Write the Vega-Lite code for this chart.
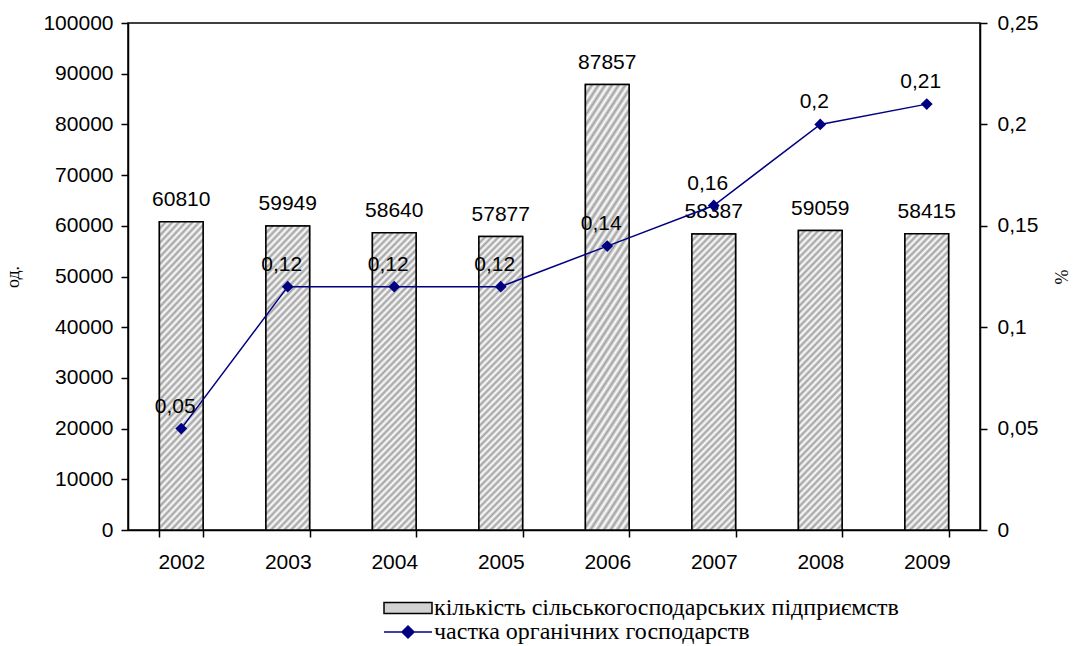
{
  "$schema": "https://vega.github.io/schema/vega-lite/v6.json",
  "width": 852,
  "height": 507,
  "autosize": {"type": "none"},
  "padding": {"left": 128, "top": 23, "right": 94, "bottom": 116},
  "config": {
    "locale": {"number": {"decimal": ",", "thousands": "", "grouping": [3], "currency": ["", ""]}},
    "view": {"stroke": "black", "strokeWidth": 1.5},
    "axis": {
      "grid": false,
      "domainColor": "black",
      "domainWidth": 1.5,
      "tickColor": "black",
      "tickWidth": 1.5,
      "tickSize": 7,
      "labelColor": "black",
      "labelFont": "Liberation Sans",
      "labelFontSize": 21,
      "titleColor": "black",
      "titleFont": "Liberation Serif",
      "titleFontSize": 18,
      "titleFontWeight": "normal"
    },
    "legend": {"labelFont": "Liberation Serif", "labelFontSize": 24, "labelColor": "black"}
  },
  "data": {
    "values": [
      {"year": "2002", "count": 60810, "share": 0.05},
      {"year": "2003", "count": 59949, "share": 0.12},
      {"year": "2004", "count": 58640, "share": 0.12},
      {"year": "2005", "count": 57877, "share": 0.12},
      {"year": "2006", "count": 87857, "share": 0.14},
      {"year": "2007", "count": 58387, "share": 0.16},
      {"year": "2008", "count": 59059, "share": 0.2},
      {"year": "2009", "count": 58415, "share": 0.21}
    ]
  },
  "encoding": {
    "x": {
      "field": "year",
      "type": "ordinal",
      "scale": {"paddingInner": 0.59, "paddingOuter": 0.295},
      "axis": {"title": null, "labelAngle": 0, "tickBand": "extent", "labelPadding": 14}
    }
  },
  "layer": [
    {
      "layer": [
        {
          "mark": {"type": "bar", "stroke": "black", "strokeWidth": 1.5},
          "encoding": {
            "y": {
              "field": "count",
              "type": "quantitative",
              "scale": {"domain": [0, 100000], "nice": false},
              "axis": {"title": "од.", "values": [0, 10000, 20000, 30000, 40000, 50000, 60000, 70000, 80000, 90000, 100000], "format": "d", "labelPadding": 8, "titlePadding": 20}
            },
            "fill": {
              "datum": "кількість сільськогосподарських підприємств",
              "scale": {"range": ["#d2d2d2"]},
              "legend": {
                "title": null,
                "orient": "none",
                "legendX": 255,
                "legendY": 560,
                "padding": 0,
                "symbolType": "M-1,-0.23H1V0.23H-1Z",
                "symbolSize": 2304,
                "symbolStrokeColor": "black",
                "symbolStrokeWidth": 1.5,
                "labelFont": "Liberation Serif",
                "labelFontSize": 24,
                "labelColor": "black",
                "labelLimit": 0,
                "labelOffset": 1
              }
            }
          }
        },
        {
          "mark": {
            "type": "bar",
            "stroke": "black",
            "strokeWidth": 1.5,
            "fill": {
              "gradient": "linear",
              "x1": 0, "y1": 0, "x2": 0.17, "y2": 1.13,
              "stops": [
                {"offset": 0, "color": "#a0a0a0"}, {"offset": 0.01, "color": "#ffffff"},
                {"offset": 0.02, "color": "#a0a0a0"}, {"offset": 0.03, "color": "#ffffff"},
                {"offset": 0.04, "color": "#a0a0a0"}, {"offset": 0.05, "color": "#ffffff"},
                {"offset": 0.06, "color": "#a0a0a0"}, {"offset": 0.07, "color": "#ffffff"},
                {"offset": 0.08, "color": "#a0a0a0"}, {"offset": 0.09, "color": "#ffffff"},
                {"offset": 0.10, "color": "#a0a0a0"}, {"offset": 0.11, "color": "#ffffff"},
                {"offset": 0.12, "color": "#a0a0a0"}, {"offset": 0.13, "color": "#ffffff"},
                {"offset": 0.14, "color": "#a0a0a0"}, {"offset": 0.15, "color": "#ffffff"},
                {"offset": 0.16, "color": "#a0a0a0"}, {"offset": 0.17, "color": "#ffffff"},
                {"offset": 0.18, "color": "#a0a0a0"}, {"offset": 0.19, "color": "#ffffff"},
                {"offset": 0.20, "color": "#a0a0a0"}, {"offset": 0.21, "color": "#ffffff"},
                {"offset": 0.22, "color": "#a0a0a0"}, {"offset": 0.23, "color": "#ffffff"},
                {"offset": 0.24, "color": "#a0a0a0"}, {"offset": 0.25, "color": "#ffffff"},
                {"offset": 0.26, "color": "#a0a0a0"}, {"offset": 0.27, "color": "#ffffff"},
                {"offset": 0.28, "color": "#a0a0a0"}, {"offset": 0.29, "color": "#ffffff"},
                {"offset": 0.30, "color": "#a0a0a0"}, {"offset": 0.31, "color": "#ffffff"},
                {"offset": 0.32, "color": "#a0a0a0"}, {"offset": 0.33, "color": "#ffffff"},
                {"offset": 0.34, "color": "#a0a0a0"}, {"offset": 0.35, "color": "#ffffff"},
                {"offset": 0.36, "color": "#a0a0a0"}, {"offset": 0.37, "color": "#ffffff"},
                {"offset": 0.38, "color": "#a0a0a0"}, {"offset": 0.39, "color": "#ffffff"},
                {"offset": 0.40, "color": "#a0a0a0"}, {"offset": 0.41, "color": "#ffffff"},
                {"offset": 0.42, "color": "#a0a0a0"}, {"offset": 0.43, "color": "#ffffff"},
                {"offset": 0.44, "color": "#a0a0a0"}, {"offset": 0.45, "color": "#ffffff"},
                {"offset": 0.46, "color": "#a0a0a0"}, {"offset": 0.47, "color": "#ffffff"},
                {"offset": 0.48, "color": "#a0a0a0"}, {"offset": 0.49, "color": "#ffffff"},
                {"offset": 0.50, "color": "#a0a0a0"}, {"offset": 0.51, "color": "#ffffff"},
                {"offset": 0.52, "color": "#a0a0a0"}, {"offset": 0.53, "color": "#ffffff"},
                {"offset": 0.54, "color": "#a0a0a0"}, {"offset": 0.55, "color": "#ffffff"},
                {"offset": 0.56, "color": "#a0a0a0"}, {"offset": 0.57, "color": "#ffffff"},
                {"offset": 0.58, "color": "#a0a0a0"}, {"offset": 0.59, "color": "#ffffff"},
                {"offset": 0.60, "color": "#a0a0a0"}, {"offset": 0.61, "color": "#ffffff"},
                {"offset": 0.62, "color": "#a0a0a0"}, {"offset": 0.63, "color": "#ffffff"},
                {"offset": 0.64, "color": "#a0a0a0"}, {"offset": 0.65, "color": "#ffffff"},
                {"offset": 0.66, "color": "#a0a0a0"}, {"offset": 0.67, "color": "#ffffff"},
                {"offset": 0.68, "color": "#a0a0a0"}, {"offset": 0.69, "color": "#ffffff"},
                {"offset": 0.70, "color": "#a0a0a0"}, {"offset": 0.71, "color": "#ffffff"},
                {"offset": 0.72, "color": "#a0a0a0"}, {"offset": 0.73, "color": "#ffffff"},
                {"offset": 0.74, "color": "#a0a0a0"}, {"offset": 0.75, "color": "#ffffff"},
                {"offset": 0.76, "color": "#a0a0a0"}, {"offset": 0.77, "color": "#ffffff"},
                {"offset": 0.78, "color": "#a0a0a0"}, {"offset": 0.79, "color": "#ffffff"},
                {"offset": 0.80, "color": "#a0a0a0"}, {"offset": 0.81, "color": "#ffffff"},
                {"offset": 0.82, "color": "#a0a0a0"}, {"offset": 0.83, "color": "#ffffff"},
                {"offset": 0.84, "color": "#a0a0a0"}, {"offset": 0.85, "color": "#ffffff"},
                {"offset": 0.86, "color": "#a0a0a0"}, {"offset": 0.87, "color": "#ffffff"},
                {"offset": 0.88, "color": "#a0a0a0"}, {"offset": 0.89, "color": "#ffffff"},
                {"offset": 0.90, "color": "#a0a0a0"}, {"offset": 0.91, "color": "#ffffff"},
                {"offset": 0.92, "color": "#a0a0a0"}, {"offset": 0.93, "color": "#ffffff"},
                {"offset": 0.94, "color": "#a0a0a0"}, {"offset": 0.95, "color": "#ffffff"},
                {"offset": 0.96, "color": "#a0a0a0"}, {"offset": 0.97, "color": "#ffffff"},
                {"offset": 0.98, "color": "#a0a0a0"}, {"offset": 0.99, "color": "#ffffff"},
                {"offset": 1, "color": "#a0a0a0"}
              ]
            }
          },
          "encoding": {
            "y": {"field": "count", "type": "quantitative"}
          }
        },
        {
          "mark": {"type": "text", "dy": -22, "fontSize": 21, "font": "Liberation Sans", "color": "black"},
          "encoding": {
            "y": {"field": "count", "type": "quantitative"},
            "text": {"field": "count", "type": "quantitative", "format": "d"}
          }
        }
      ]
    },
    {
      "layer": [
        {
          "mark": {"type": "line", "strokeWidth": 1.5},
          "encoding": {
            "y": {
              "field": "share",
              "type": "quantitative",
              "scale": {"domain": [0, 0.25], "nice": false},
              "axis": {"orient": "right", "title": "%", "titleAngle": 270, "values": [0, 0.05, 0.1, 0.15, 0.2, 0.25], "format": "~g", "labelPadding": 10, "titlePadding": 34}
            },
            "stroke": {
              "datum": "частка органічних господарств",
              "scale": {"range": ["#000080"]},
              "legend": {
                "title": null,
                "orient": "none",
                "legendX": 255,
                "legendY": 584,
                "padding": 0,
                "symbolType": "M-1,0H1M0,-0.25L0.25,0L0,0.25L-0.25,0Z",
                "symbolSize": 2304,
                "symbolStrokeWidth": 1.5,
                "symbolFillColor": "#000080",
                "labelFont": "Liberation Serif",
                "labelFontSize": 24,
                "labelColor": "black",
                "labelLimit": 0,
                "labelOffset": 1
              }
            }
          }
        },
        {
          "mark": {"type": "point", "shape": "diamond", "filled": true, "size": 140, "color": "#000080", "opacity": 1},
          "encoding": {"y": {"field": "share", "type": "quantitative"}}
        },
        {
          "mark": {"type": "text", "dy": -22, "dx": -6, "fontSize": 21, "font": "Liberation Sans", "color": "black"},
          "encoding": {
            "y": {"field": "share", "type": "quantitative"},
            "text": {"field": "share", "type": "quantitative", "format": "~g"}
          }
        }
      ]
    }
  ],
  "resolve": {"scale": {"y": "independent"}}
}
